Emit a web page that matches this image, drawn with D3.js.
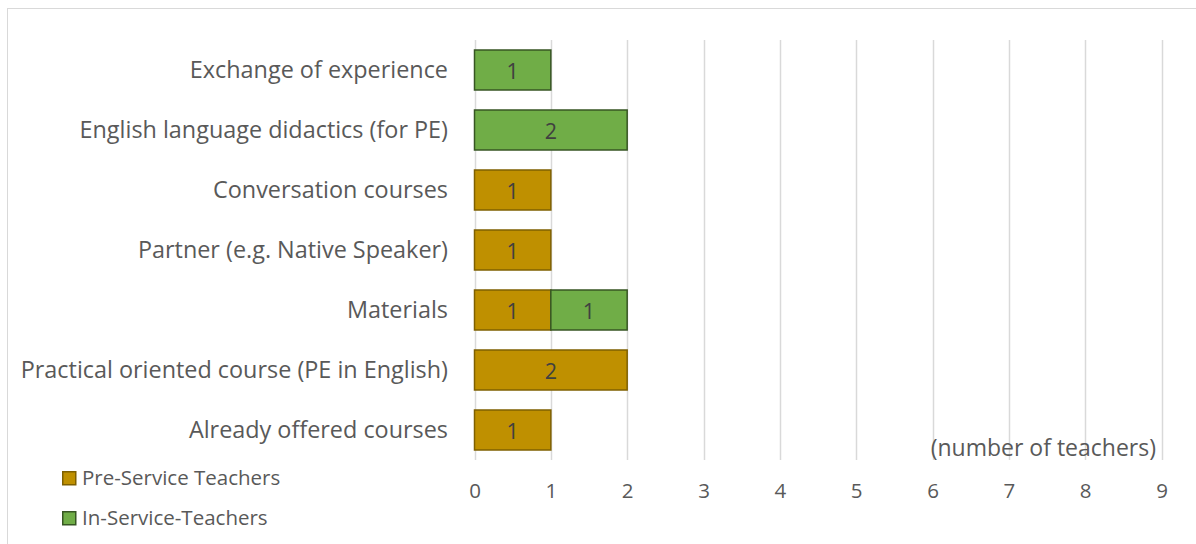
<!DOCTYPE html>
<html>
<head>
<meta charset="utf-8">
<script src="https://cdn.jsdelivr.net/npm/d3@7"></script>
<style>
  body { margin: 0; background: #fff; }
  svg { display: block; font-family: "Open Sans", sans-serif; }
</style>
</head>
<body>
<div id="chart"></div>
<script>
// categories from top to bottom
const categories = [
    'Exchange of experience',
    'English language didactics (for PE)',
    'Conversation courses',
    'Partner (e.g. Native Speaker)',
    'Materials',
    'Practical oriented course (PE in English)',
    'Already offered courses'
];
const preService = [0, 0, 1, 1, 1, 2, 1];
const inService = [1, 2, 0, 0, 1, 0, 0];
const seriesNames = ['Pre-Service Teachers', 'In-Service-Teachers'];
const xTicks = [0, 1, 2, 3, 4, 5, 6, 7, 8, 9];

const colors = {
    fill: ['#BF9000', '#70AD47'],
    stroke: ['#7F6000', '#375623'],
    text: '#595959',
    label: '#404040',
    grid: '#D9D9D9'
};

const width = 1196, height = 544;
const svg = d3.select('#chart').append('svg')
    .attr('width', width)
    .attr('height', height);

// chart area frame
svg.append('rect')
    .attr('x', 7.5).attr('y', 8.5)
    .attr('width', 1200).attr('height', 560)
    .attr('fill', '#fff')
    .attr('stroke', '#D9D9D9');

const x = d3.scaleLinear().domain([0, 9]).range([474.5, 1161.5]);
const y = d3.scaleBand().domain(categories).range([40, 460]).paddingInner(1 / 3).paddingOuter(1 / 6);

// gridlines
svg.append('g')
    .selectAll('line')
    .data(xTicks)
    .join('line')
    .attr('x1', d => Math.round(x(d)) + 0.5)
    .attr('x2', d => Math.round(x(d)) + 0.5)
    .attr('y1', 40)
    .attr('y2', 460)
    .attr('stroke', colors.grid)
    .attr('stroke-width', 1.5);

// stacked data
const rows = categories.map((c, i) => ({ cat: c, vals: [preService[i], inService[i]] }));
const segs = [];
rows.forEach(r => {
    let acc = 0;
    r.vals.forEach((v, s) => {
        if (v > 0) segs.push({ cat: r.cat, s: s, x0: acc, x1: acc + v, v: v });
        acc += v;
    });
});

const bars = svg.append('g');
bars.selectAll('rect')
    .data(segs)
    .join('rect')
    .attr('x', d => x(d.x0))
    .attr('y', d => y(d.cat))
    .attr('width', d => x(d.x1) - x(d.x0))
    .attr('height', y.bandwidth())
    .attr('fill', d => colors.fill[d.s])
    .attr('stroke', d => colors.stroke[d.s])
    .attr('stroke-width', 1.5);

bars.selectAll('text')
    .data(segs)
    .join('text')
    .attr('x', d => (x(d.x0) + x(d.x1)) / 2)
    .attr('y', d => y(d.cat) + y.bandwidth() / 2 + 1)
    .attr('dy', '0.36em')
    .attr('text-anchor', 'middle')
    .attr('font-size', 21.5)
    .attr('fill', colors.label)
    .text(d => d.v);

// category axis labels
svg.append('g')
    .selectAll('text')
    .data(categories)
    .join('text')
    .attr('x', 448)
    .attr('y', d => y(d) + y.bandwidth() / 2)
    .attr('dy', '0.36em')
    .attr('text-anchor', 'end')
    .attr('font-size', 23.4)
    .attr('fill', colors.text)
    .text(d => d);

// value axis
const xAxis = d3.axisBottom(x).tickValues(xTicks).tickSize(0).tickPadding(0);
const axisG = svg.append('g')
    .attr('transform', 'translate(0, 491)')
    .call(xAxis);
axisG.select('.domain').remove();
axisG.selectAll('text')
    .attr('font-size', 20.5)
    .attr('font-family', '"Open Sans", sans-serif')
    .attr('fill', colors.text)
    .attr('dy', '0.36em');

// axis title
svg.append('text')
    .attr('x', 1156)
    .attr('y', 456)
    .attr('text-anchor', 'end')
    .attr('font-size', 23)
    .attr('fill', colors.text)
    .text('(number of teachers)');

// legend
const legend = svg.append('g')
    .selectAll('g')
    .data(seriesNames)
    .join('g')
    .attr('transform', (d, i) => `translate(62, ${471 + i * 40})`);
legend.append('rect')
    .attr('x', 0.75).attr('y', 0.75)
    .attr('width', 13).attr('height', 13)
    .attr('fill', (d, i) => colors.fill[i])
    .attr('stroke', (d, i) => colors.stroke[i])
    .attr('stroke-width', 1.5);
legend.append('text')
    .attr('x', 20)
    .attr('y', 7)
    .attr('dy', '0.36em')
    .attr('font-size', 20.5)
    .attr('fill', colors.text)
    .text(d => d);
</script>
</body>
</html>
